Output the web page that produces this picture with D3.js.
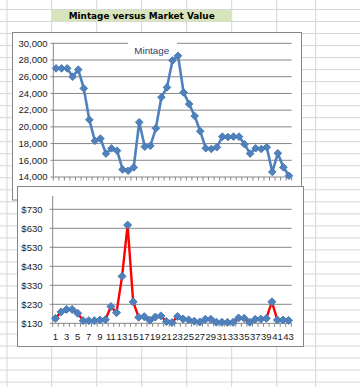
<!DOCTYPE html>
<html><head><meta charset="utf-8">
<script src="https://cdn.jsdelivr.net/npm/d3@7"></script>
<style>body{margin:0;background:#fff}svg{display:block}</style>
</head><body>
<svg id="c" width="360" height="387"></svg>
<script>
const title = "Mintage versus Market Value";
const legendLabel = "Mintage";
const categories = [1,2,3,4,5,6,7,8,9,10,11,12,13,14,15,16,17,18,19,20,21,22,23,24,25,26,27,28,29,30,31,32,33,34,35,36,37,38,39,40,41,42,43];
const mintage = [27000,27000,27000,26000,26850,24600,20850,18330,18600,16800,17420,17150,14900,14750,15150,20550,17630,17730,19830,23550,24720,27950,28500,24120,22730,21300,19480,17440,17350,17560,18830,18780,18830,18830,17920,16800,17440,17350,17560,14600,16840,15160,14150];
const marketValue = [156,190,203,203,183,144,144,144,147,149,218,186,377,647,243,162,165,146,163,169,139,134,166,153,148,141,137,151,151,136,135,135,135,158,156,136,151,152,156,243,147,147,145];
const mintageTicks = [14000,16000,18000,20000,22000,24000,26000,28000,30000];
const valueTicks = [130,230,330,430,530,630,730];
const valueLabelCats = [1,3,5,7,9,11,13,15,17,19,21,23,25,27,29,31,33,35,37,39,41,43];

const svg = d3.select("#c");
const font = "'Liberation Sans', Arial, sans-serif";

// spreadsheet grid
const sheet = svg.append("g");
const colX = [7, 51.7, 96.7, 141.7, 186.7, 231.7, 276.7, 315.7];
colX.forEach(x => sheet.append("line").attr("x1", x).attr("x2", x).attr("y1", 0).attr("y2", 387).attr("stroke", "#d6d6d6"));
for (let y = 9.5; y < 387; y += 12.02) sheet.append("line").attr("x1", 0).attr("x2", 360).attr("y1", y).attr("y2", y).attr("stroke", "#d6d6d6");

// title cell
svg.append("rect").attr("x", 52).attr("y", 10).attr("width", 179.5).attr("height", 11.5).attr("fill", "#d8e4bc");
svg.append("text").attr("x", 141.7).attr("y", 18.8).attr("text-anchor", "middle")
  .attr("font-family", "'DejaVu Sans', Verdana, sans-serif").attr("font-weight", "bold").attr("font-size", 9)
  .attr("textLength", 146).attr("lengthAdjust", "spacingAndGlyphs")
  .attr("fill", "#000").text(title);

function diamond(g, pts, r) {
  g.selectAll(null).data(pts).enter().append("path")
    .attr("d", d => `M${d[0]},${d[1]-r}L${d[0]+r},${d[1]}L${d[0]},${d[1]+r}L${d[0]-r},${d[1]}Z`)
    .attr("fill", "#4f81bd").attr("stroke", "#4a7ab5").attr("stroke-width", 1);
}

// ---------- Chart 1: Mintage ----------
const c1 = svg.append("g");
c1.append("rect").attr("x", 12.5).attr("y", 32.5).attr("width", 289).attr("height", 167.5).attr("fill", "#fff").attr("stroke", "#868686");
const x1 = d3.scaleBand().domain(categories).range([53.3, 291.7]);
const y1 = d3.scaleLinear().domain([14000, 30000]).range([177, 43.3]);
c1.selectAll(null).data(mintageTicks).enter().append("line")
  .attr("x1", 50.5).attr("x2", 291.7).attr("y1", d => y1(d)).attr("y2", d => y1(d)).attr("stroke", "#868686");
c1.append("line").attr("x1", 53.3).attr("x2", 53.3).attr("y1", y1(30000)).attr("y2", y1(14000)).attr("stroke", "#868686");
c1.selectAll(null).data(categories.concat([null])).enter().append("line")
  .attr("x1", (d, i) => 53.3 + i * x1.bandwidth()).attr("x2", (d, i) => 53.3 + i * x1.bandwidth())
  .attr("y1", y1(14000)).attr("y2", y1(14000) + 3.5).attr("stroke", "#868686");
c1.selectAll(null).data(mintageTicks).enter().append("text")
  .attr("x", 47.5).attr("y", d => y1(d) + 3.3).attr("text-anchor", "end")
  .attr("font-family", font).attr("font-size", 9.5).attr("fill", "#1a1a1a")
  .text(d => d3.format(",")(d));
// legend
c1.append("rect").attr("x", 128).attr("y", 39).attr("width", 49).attr("height", 19).attr("fill", "#fff");
c1.append("text").attr("x", 134.3).attr("y", 54.4).attr("font-family", font).attr("font-size", 9.8).attr("fill", "#1f3f73").text(legendLabel);
const p1 = categories.map((c, i) => [x1(c) + x1.bandwidth() / 2, y1(mintage[i])]);
c1.append("path").attr("d", d3.line()(p1)).attr("fill", "none").attr("stroke", "#4f81bd").attr("stroke-width", 2.6).attr("stroke-linejoin", "round");
diamond(c1, p1, 3.8);

// ---------- Chart 2: Market Value ----------
const c2 = svg.append("g");
c2.append("rect").attr("x", 17.5).attr("y", 186.5).attr("width", 286).attr("height", 160).attr("fill", "#fff").attr("stroke", "#868686");
const x2 = d3.scaleBand().domain(categories).range([52.7, 291.3]);
const y2 = d3.scaleLinear().domain([130, 800]).range([323.3, 196]);
c2.selectAll(null).data(valueTicks).enter().append("line")
  .attr("x1", 49.7).attr("x2", 291.7).attr("y1", d => y2(d)).attr("y2", d => y2(d)).attr("stroke", "#868686");
c2.append("line").attr("x1", 52.7).attr("x2", 52.7).attr("y1", 196).attr("y2", y2(130)).attr("stroke", "#868686");
c2.selectAll(null).data(categories.concat([null])).enter().append("line")
  .attr("x1", (d, i) => 52.7 + i * x2.bandwidth()).attr("x2", (d, i) => 52.7 + i * x2.bandwidth())
  .attr("y1", y2(130)).attr("y2", y2(130) + 3.5).attr("stroke", "#868686");
c2.selectAll(null).data(valueTicks).enter().append("text")
  .attr("x", 42.5).attr("y", d => y2(d) + 3.3).attr("text-anchor", "end")
  .attr("font-family", font).attr("font-size", 9.5).attr("fill", "#1a1a1a")
  .text(d => "$" + d);
c2.selectAll(null).data(valueLabelCats).enter().append("text")
  .attr("x", d => x2(d) + x2.bandwidth() / 2).attr("y", 339.5).attr("text-anchor", "middle")
  .attr("font-family", font).attr("font-size", 9.5).attr("fill", "#1a1a1a").text(d => d);
const p2 = categories.map((c, i) => [x2(c) + x2.bandwidth() / 2, y2(marketValue[i])]);
c2.append("path").attr("d", d3.line()(p2)).attr("fill", "none").attr("stroke", "#ff0000").attr("stroke-width", 2.4).attr("stroke-linejoin", "round");
diamond(c2, p2, 4);
</script>
</body></html>
